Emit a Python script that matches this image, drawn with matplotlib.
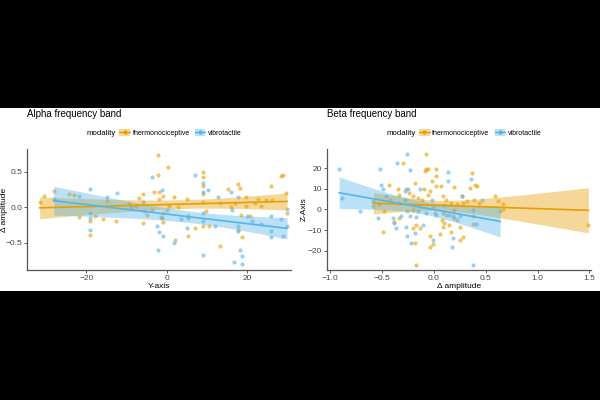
import numpy as np
import matplotlib.pyplot as plt
from matplotlib.lines import Line2D
from matplotlib.patches import Patch, Rectangle

plt.rcParams['font.family'] = ['Liberation Sans', 'DejaVu Sans']

ORANGE = '#E69F00'
BLUE = '#56B4E9'

# Alpha band: x = Y-axis, y = delta amplitude
alpha_thermo_x = [-31.6, -30.5, -28.1, -24.3, -23.0, -21.75, -19.0, -19.0, -17.7, -15.8,
                  -14.9, -12.7, -9.3, -7.7, -6.8, -5.8, -5.8, -4.75, -3.5, -3.0,
                  -2.1, -2.1, -1.8, -1.8, -1.5, -1.0, -0.8, -0.8, 0.25, 0.7,
                  1.9, 2.0, 2.75, 5.1, 5.25, 5.25, 7.2, 9.0, 9.0, 9.0,
                  9.0, 9.0, 9.0, 9.8, 10.7, 13.3, 13.4, 15.25, 16.0, 17.0,
                  17.8, 18.3, 17.9, 18.6, 18.75, 19.75, 19.8, 20.7, 22.0, 22.75,
                  23.6, 24.8, 25.9, 26.3, 28.6, 29.0, 29.8, 30.0]
alpha_thermo_y = [0.07, 0.16, 0.23, 0.19, 0.17, -0.14, -0.2, -0.39, -0.13, -0.16,
                  0.09, -0.19, 0.05, 0.01, 0.13, 0.19, -0.22, -0.11, -0.04, 0.22,
                  0.74, 0.46, 0.22, 0.12, -0.14, 0.16, -0.08, -0.21, 0.57, 0.01,
                  0.15, -0.46, 0.0, 0.12, -0.12, -0.41, -0.3, 0.5, 0.43, 0.3,
                  0.19, 0.08, -0.27, -0.06, -0.26, -0.55, 0.06, 0.25, 0.0, 0.06,
                  0.32, 0.27, -0.32, -0.11, -0.42, 0.14, 0.01, -0.12, 0.06, 0.11,
                  0.01, 0.1, 0.3, 0.1, 0.44, 0.46, 0.2, -0.08]
alpha_vibro_x = [-28.1, -21.7, -19.0, -19.0, -19.0, -19.0, -14.9, -12.25, -8.75, -5.8,
                 -5.6, -3.5, -2.25, -2.0, -1.8, -1.1, -1.0, -1.1, 0.1, 1.9,
                 3.6, 5.1, 5.25, 7.2, 9.0, 9.0, 9.0, 9.0, 9.0, 10.25,
                 12.0, 12.9, 16.0, 16.3, 17.9, 17.9, 17.9, 18.4, 16.9, 18.75,
                 18.8, 20.0, 21.3, 23.6, 25.9, 25.9, 26.1, 28.6, 29.0, 30.0, 30.0]
alpha_vibro_y = [0.12, 0.16, 0.25, -0.08, -0.15, -0.32, 0.15, 0.2, 0.0, 0.07,
                 -0.06, 0.42, -0.26, -0.6, -0.35, 0.24, -0.41, -0.15, -0.04, -0.5,
                 -0.17, -0.3, -0.15, 0.46, 0.34, 0.22, -0.08, -0.2, -0.68, 0.24,
                 -0.26, 0.14, 0.22, -0.04, 0.15, -0.27, -0.34, -0.61, -0.77, -0.69,
                 -0.8, -0.13, -0.2, -0.23, -0.12, -0.33, -0.42, -0.17, -0.41, -0.03, -0.27]

# Beta band: x = delta amplitude, y = Z-Axis
beta_thermo_x = [-0.3, -0.07, -0.17, -0.08, -0.07, -0.055, -0.18, -0.34, -0.27, -0.24,
                 -0.33, -0.2, -0.15, -0.09, -0.055, -0.04, -0.02, 0.02, 0.025, 0.025,
                 0.09, 0.12, 0.17, -0.11, -0.135, -0.2, -0.26, -0.33, -0.38, -0.49,
                 -0.2, -0.135, -0.18, -0.04, -0.006, -0.04, 0.06, 0.09, 0.15, 0.17,
                 0.22, 0.25, 0.25, 0.28, 0.35, 0.37, 0.4, 0.42, 0.39, 0.38,
                 0.38, 0.44, 0.59, 0.62, 0.67, 1.49, -0.53, -0.48, -0.42, 0.12,
                 0.19, 0.01, -0.17, -0.58, -0.43, 0.07, 0.22, 0.28, 0.27, 0.32,
                 0.2, 0.67, 0.2, 0.08, 0.1]
beta_thermo_y = [22.3, 26.7, -26.9, 18.7, 19.8, 19.5, 12.6, 9.7, 9.7, 8.0,
                 7.2, 6.4, 5.6, 9.7, 7.2, 8.9, 13.8, 11.3, 19.8, 16.2,
                 6.4, 4.8, 3.1, 4.8, 1.5, -0.2, -1.0, -4.3, -5.9, -10.8,
                 -9.2, -9.2, -16.2, -18.2, -16.9, -13.0, -12.0, -8.4, -7.5, -10.8,
                 -5.1, -14.9, -8.4, -13.3, 10.5, 17.5, 11.6, 11.3, 4.8, -7.0,
                 -3.4, 3.1, 6.4, 3.9, 2.6, -7.4, 2.6, -1.0, 4.8, -2.6,
                 -3.4, -1.8, -7.5, 1.8, 11.6, 11.5, 2.5, 3.3, 6.4, 4.0,
                 -0.1, 0.3, 10.7, -5.0, -6.5]
beta_vibro_x = [-0.91, -0.88, -0.71, -0.58, -0.54, -0.52, -0.51, -0.49, -0.46, -0.39,
                -0.38, -0.36, -0.35, -0.26, -0.23, -0.28, -0.25, -0.28, -0.33, -0.31,
                -0.27, -0.26, -0.23, -0.215, -0.18, -0.17, -0.15, -0.135, -0.1, -0.07,
                -0.02, -0.006, -0.006, 0.026, 0.09, 0.1, 0.14, 0.14, 0.15, 0.18,
                0.19, 0.2, 0.25, 0.27, 0.36, 0.38, 0.41, 0.47, 0.38, 0.64]
beta_vibro_y = [19.8, 5.6, -1.0, 3.9, -4.3, 19.8, 11.6, 9.7, 6.4, -4.3,
                -6.7, -9.2, 22.3, 26.7, 19.0, 8.9, 9.7, 4.8, 3.1, -3.4,
                -8.7, -13.0, -3.4, -16.2, -11.3, -3.9, -1.0, 9.7, -7.5, -1.8,
                4.8, 1.5, -14.9, -2.6, -1.8, 2.3, 17.9, 13.8, -2.6, -18.2,
                -14.1, -4.3, -3.4, 6.4, 14.6, -26.9, -7.0, 4.8, -0.2, -1.0]


def lm_ribbon(ax, x, y, color):
    # straight-line fit with a 95% confidence band, like geom_smooth(method="lm")
    x = np.asarray(x)
    y = np.asarray(y)
    n = len(x)
    b, a = np.polyfit(x, y, 1)
    xs = np.linspace(x.min(), x.max(), 80)
    fit = a + b * xs
    resid = y - (a + b * x)
    s = np.sqrt(np.sum(resid ** 2) / (n - 2))
    se = s * np.sqrt(1 / n + (xs - x.mean()) ** 2 / np.sum((x - x.mean()) ** 2))
    t = 1.99
    ax.fill_between(xs, fit - t * se, fit + t * se, color=color, alpha=0.4, lw=0, zorder=3)
    ax.plot(xs, fit, color=color, lw=1.2, zorder=4)


def panel(ax, title, tx, ty, vx, vy, xlabel, ylabel):
    ax.scatter(tx, ty, s=9, color=ORANGE, alpha=0.6, lw=0, zorder=2)
    ax.scatter(vx, vy, s=9, color=BLUE, alpha=0.6, lw=0, zorder=2)
    lm_ribbon(ax, tx, ty, ORANGE)
    lm_ribbon(ax, vx, vy, BLUE)
    for side in ['top', 'right']:
        ax.spines[side].set_visible(False)
    for side in ['left', 'bottom']:
        ax.spines[side].set_color('#555555')
        ax.spines[side].set_linewidth(0.9)
    ax.tick_params(labelsize=6, colors='#444444', length=2, width=0.6, pad=1.5)
    ax.set_xlabel(xlabel, fontsize=6, labelpad=0.5)
    ax.set_ylabel(ylabel, fontsize=6)
    ax.yaxis.set_label_coords(-0.072, 0.5)
    ax.text(0.0, 1.29, title, transform=ax.transAxes, fontsize=7, ha='left', va='center')

    handles = [(Patch(facecolor=ORANGE, alpha=0.4, lw=0),
                Line2D([], [], color=ORANGE, lw=1.0, marker='o', ms=2)),
               (Patch(facecolor=BLUE, alpha=0.4, lw=0),
                Line2D([], [], color=BLUE, lw=1.0, marker='o', ms=2))]
    ax.text(0.227, 1.13, 'modality', transform=ax.transAxes, fontsize=5.6, va='center')
    ax.legend(handles, ['thermonociceptive', 'vibrotactile'], ncol=2, fontsize=5,
              frameon=False, loc='center left', bbox_to_anchor=(0.35, 1.13),
              handlelength=1.5, handleheight=1.2, handletextpad=0.4, columnspacing=0.7,
              borderaxespad=0, borderpad=0)


fig = plt.figure(figsize=(6, 4), dpi=100, facecolor='black')
fig.patches.append(Rectangle((0, 0.2725), 1, 0.4575, transform=fig.transFigure,
                             facecolor='white', edgecolor='none', zorder=-5))

ax1 = fig.add_axes([0.045, 0.325, 0.44, 0.3025])
panel(ax1, 'Alpha frequency band', alpha_thermo_x, alpha_thermo_y,
      alpha_vibro_x, alpha_vibro_y, 'Y-axis', '\u0394 amplitude')
ax1.set_xlim(-34.75, 31)
ax1.set_ylim(-0.885, 0.82)
ax1.set_xticks([-20, 0, 20])
ax1.set_yticks([-0.5, 0.0, 0.5])

ax2 = fig.add_axes([0.5445, 0.325, 0.4405, 0.3025])
panel(ax2, 'Beta frequency band', beta_thermo_x, beta_thermo_y,
      beta_vibro_x, beta_vibro_y, '\u0394 amplitude', 'Z-Axis')
ax2.set_xlim(-1.03, 1.515)
ax2.set_ylim(-29.4, 29.3)
ax2.set_xticks([-1.0, -0.5, 0.0, 0.5, 1.0, 1.5])
ax2.set_yticks([-20, -10, 0, 10, 20])

fig.savefig('out.png', dpi=100, facecolor='black')
